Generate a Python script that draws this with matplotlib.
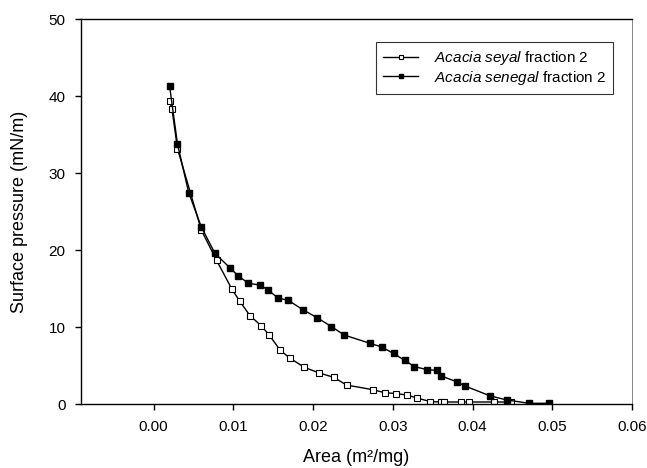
import matplotlib
matplotlib.use("Agg")
import matplotlib.pyplot as plt

plt.rcParams['font.family'] = ['Liberation Sans', 'DejaVu Sans']
plt.rcParams['mathtext.fontset'] = 'custom'
plt.rcParams['mathtext.rm'] = 'Liberation Sans'
plt.rcParams['mathtext.it'] = 'Liberation Sans:italic'

# Acacia seyal fraction 2 (open squares)
seyal_area = [0.0020, 0.0023, 0.0030, 0.0060, 0.0079, 0.0098, 0.0108, 0.0121,
              0.0135, 0.0145, 0.0159, 0.0171, 0.0189, 0.0207, 0.0226, 0.0242,
              0.0275, 0.0290, 0.0304, 0.0318, 0.0331, 0.0347, 0.0360, 0.0364,
              0.0385, 0.0395, 0.0427, 0.0448]
seyal_pressure = [39.4, 38.4, 33.2, 22.6, 18.7, 15.0, 13.4, 11.5,
                  10.2, 9.0, 7.0, 6.0, 4.8, 4.1, 3.5, 2.5,
                  1.9, 1.5, 1.4, 1.2, 0.8, 0.35, 0.3, 0.3,
                  0.3, 0.3, 0.3, 0.3]

# Acacia senegal fraction 2 (filled squares)
senegal_area = [0.0020, 0.0030, 0.0044, 0.0060, 0.0077, 0.0096, 0.0106, 0.0119,
                0.0133, 0.0143, 0.0156, 0.0169, 0.0187, 0.0205, 0.0223, 0.0239,
                0.0272, 0.0286, 0.0301, 0.0315, 0.0327, 0.0343, 0.0356, 0.0360,
                0.0381, 0.0390, 0.0422, 0.0443, 0.0471, 0.0496]
senegal_pressure = [41.4, 33.8, 27.5, 23.0, 19.6, 17.7, 16.7, 15.7,
                    15.5, 14.9, 13.8, 13.5, 12.3, 11.25, 10.1, 9.0,
                    7.9, 7.45, 6.6, 5.7, 4.9, 4.5, 4.4, 3.7,
                    2.9, 2.4, 1.1, 0.56, 0.13, 0.13]

x_ticks = [0.00, 0.01, 0.02, 0.03, 0.04, 0.05, 0.06]
y_ticks = [0, 10, 20, 30, 40, 50]

fig = plt.figure(figsize=(6.47, 4.68), dpi=100)
ax = fig.add_axes([0.1252, 0.1361, 0.8516, 0.8227])

ax.plot(seyal_area, seyal_pressure, color='black', lw=1.0, marker='s',
        markersize=4, markerfacecolor='white', markeredgecolor='black',
        markeredgewidth=0.8, label=r'$\it{Acacia\ seyal}$ fraction 2')
ax.plot(senegal_area, senegal_pressure, color='black', lw=1.0, marker='s',
        markersize=4, markerfacecolor='black', markeredgecolor='black',
        label=r'$\it{Acacia\ senegal}$ fraction 2')

ax.set_xlim(-0.0091, 0.06)
ax.set_ylim(0, 50)
ax.set_xticks(x_ticks)
ax.set_xticklabels([f"{t:.2f}" for t in x_ticks])
ax.set_yticks(y_ticks)
ax.tick_params(direction='out', labelsize=11, length=4, width=1)
ax.tick_params(axis='x', pad=7)
ax.tick_params(axis='y', pad=7)
ax.spines['right'].set_linewidth(0.5)
ax.spines['right'].set_color('#555555')
for s in ['top', 'left', 'bottom']:
    ax.spines[s].set_linewidth(1.0)

ax.set_xlabel('Area (m²/mg)', fontsize=13)
ax.set_ylabel('Surface pressure (mN/m)', fontsize=13)
ax.xaxis.set_label_coords(0.5, -0.116)
ax.yaxis.set_label_coords(-0.097, 0.5)

leg = ax.legend(loc='upper right', bbox_to_anchor=(0.9656, 0.940), fontsize=11,
                frameon=True, fancybox=False, edgecolor='black',
                borderaxespad=0, handlelength=2.3, handletextpad=1.0,
                markerscale=0.8, borderpad=0.45, labelspacing=0.1)
leg.get_frame().set_linewidth(0.8)

fig.savefig('out.png', dpi=100)
